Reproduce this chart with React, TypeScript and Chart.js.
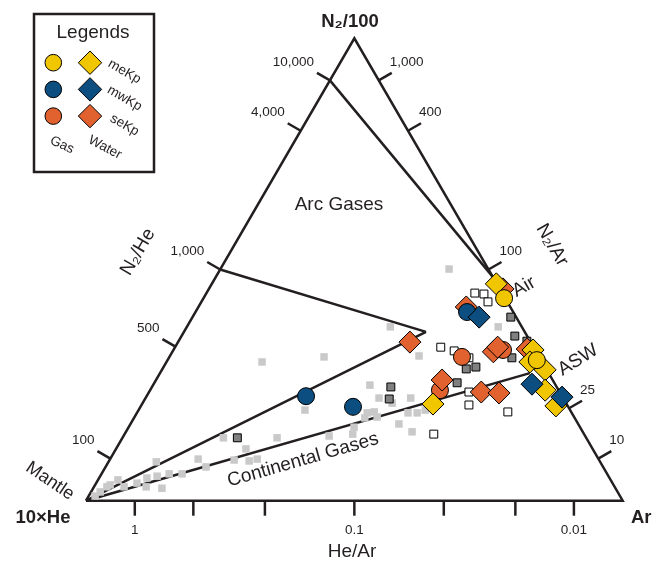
import React, { useEffect, useRef } from "react";
import { Chart, registerables } from "chart.js";

Chart.register(...registerables);

// Ternary composition per point: [N2/100 share %, Ar share %]; 10×He share = 100 − both
type P = [number, number];

const triangleEdges: P[] = [[0, 0], [100, 0], [0, 100], [0, 0]];
const airMixLine: P[] = [[90.9, 0], [48.4, 51.6]];
const arcUpperLine: P[] = [[50, 0], [36.5, 45.1]];
const arcLowerLine: P[] = [[0, 0], [36.5, 45.1]];
const continentalLine: P[] = [[0, 0], [27.6, 68.9]];

const literatureLight: P[] = [
  [1.0, 1.2], [1.9, 1.7], [3.0, 2.4], [3.4, 2.8], [4.5, 3.7], [3.0, 5.6], [3.8, 7.6],
  [3.0, 9.7], [4.9, 8.9], [8.4, 8.9], [5.3, 10.6], [2.7, 12.8], [5.8, 12.6], [5.8, 15.0],
  [9.0, 16.4], [7.3, 18.7], [13.6, 18.8], [8.8, 23.2], [11.2, 24.2], [8.6, 26.1], [9.0, 27.4],
  [30.0, 17.8], [13.6, 28.8], [19.6, 31.0], [31.1, 28.8], [14.0, 38.3], [14.4, 42.5],
  [15.9, 42.0], [17.9, 43.0], [19.0, 42.9], [25.0, 40.4], [19.2, 44.1], [18.1, 45.2],
  [22.2, 43.5], [37.6, 37.9], [21.1, 46.5], [16.6, 50.0], [19.0, 50.5], [22.2, 49.4],
  [14.9, 53.3], [19.0, 52.2], [31.3, 46.4], [19.6, 53.4], [50.1, 42.6], [37.6, 58.0],
];
const literatureDark: P[] = [
  [13.6, 21.4], [22.0, 45.5], [24.6, 44.5], [25.5, 56.4], [28.5, 56.6], [28.9, 58.2],
  [39.7, 59.3], [35.6, 62.1], [34.5, 64.9], [30.9, 63.9],
];
const literatureOpen: P[] = [
  [44.9, 50.0], [44.7, 51.8], [43.0, 53.4], [33.2, 49.5], [32.4, 52.4], [30.9, 55.9],
  [23.5, 59.6], [20.7, 61.0], [19.2, 69.0], [14.4, 57.6],
];

const meKpGas: P[] = [[43.8, 56.0], [30.4, 68.8]];
const meKpWater: P[] = [[46.9, 53.0], [32.6, 67.0], [30.0, 67.7], [28.3, 71.4], [23.9, 73.6], [20.5, 77.3], [20.9, 54.2]];
const mwKpGas: P[] = [[22.6, 29.7], [20.3, 39.6], [40.8, 50.6]];
const mwKpWater: P[] = [[39.7, 53.4], [25.2, 70.5], [22.4, 77.5]];
const seKpGas: P[] = [[31.1, 54.5], [23.9, 54.0], [32.6, 61.4]];
const seKpWater: P[] = [[34.3, 43.2], [41.9, 49.9], [26.1, 53.3], [23.5, 61.9], [23.3, 65.3], [32.2, 59.8], [33.2, 60.1], [32.8, 65.8], [45.8, 54.8]];

const n2HeTicks = [100, 500, 1000, 4000, 10000];
const n2HeLabels = ["100", "500", "1,000", "4,000", "10,000"];
const n2ArTicks = [10, 25, 100, 400, 1000];
const n2ArLabels = ["10", "25", "100", "400", "1,000"];
const heArTicks = [1, 0.4, 0.2, 0.1, 0.05, 0.025, 0.01];
const heArLabels = ["1", "", "", "0.1", "", "", "0.01"];

const legendNames = ["meKp", "mwKp", "seKp"];

const INK = "#231F20";
const YELLOW = "#F0C600";
const BLUE = "#0C4E7F";
const ORANGE = "#E1622F";
const FONT = "'Liberation Sans', Arial, Helvetica, sans-serif";

const toXY = ([n2, ar]: P) => ({ x: (ar + n2 / 2) / 100, y: n2 / 100 });

const lineDs = (data: P[]) => ({
  data: data.map(toXY),
  showLine: true,
  borderColor: INK,
  borderWidth: 2.5,
  borderJoinStyle: "miter",
  pointRadius: 0,
  fill: false,
  order: 30,
});

const markDs = (data: P[], style: string, radius: number, bg: string, border: string, bw: number, order: number) => ({
  data: data.map(toXY),
  showLine: false,
  pointStyle: style,
  pointRadius: radius,
  pointHoverRadius: radius,
  backgroundColor: bg,
  borderColor: border,
  borderWidth: bw,
  order,
});

function drawText(ctx: CanvasRenderingContext2D, s: string, x: number, y: number, size: number, opts: any = {}) {
  ctx.save();
  ctx.translate(x, y);
  if (opts.angle) ctx.rotate((opts.angle * Math.PI) / 180);
  ctx.font = `${opts.bold ? "bold " : ""}${size}px ${FONT}`;
  ctx.fillStyle = INK;
  ctx.textAlign = opts.align || "center";
  ctx.textBaseline = opts.baseline || "middle";
  ctx.fillText(s, 0, 0);
  ctx.restore();
}

const ternaryPlugin = {
  id: "ternaryDecor",
  beforeDatasetsDraw(chart: any) {
    const ctx: CanvasRenderingContext2D = chart.ctx;
    const sx = chart.scales.x, sy = chart.scales.y;
    const pt = (p: P) => {
      const v = toXY(p);
      return [sx.getPixelForValue(v.x), sy.getPixelForValue(v.y)];
    };
    const L = 15;
    const c30 = Math.cos(Math.PI / 6), s30 = 0.5;
    ctx.save();
    ctx.strokeStyle = INK;
    ctx.lineWidth = 2.5;
    ctx.lineCap = "butt";
    const tick = (p: P, nx: number, ny: number) => {
      const [x, y] = pt(p);
      ctx.beginPath();
      ctx.moveTo(x, y);
      ctx.lineTo(x + nx * L, y + ny * L);
      ctx.stroke();
      return [x + nx * L, y + ny * L];
    };
    n2HeTicks.forEach((v, i) => {
      const k = v / 1000;
      const b = (100 * k) / (1 + k);
      const [ex, ey] = tick([b, 0], -c30, -s30);
      drawText(ctx, n2HeLabels[i], ex - 3, ey - 4, 13.5, { align: "right", baseline: "bottom" });
    });
    n2ArTicks.forEach((v, i) => {
      const k = v / 100;
      const b = (100 * k) / (1 + k);
      const [ex, ey] = tick([b, 100 - b], c30, -s30);
      drawText(ctx, n2ArLabels[i], ex - 2, ey - 4, 13.5, { align: "left", baseline: "bottom" });
    });
    heArTicks.forEach((v, i) => {
      const c = 100 / (1 + 10 * v);
      const [ex, ey] = tick([0, c], 0, 1);
      if (heArLabels[i]) drawText(ctx, heArLabels[i], ex, ey + 8, 13.5, { baseline: "top" });
    });
    ctx.restore();
  },
  afterDraw(chart: any) {
    const ctx: CanvasRenderingContext2D = chart.ctx;
    // vertex and axis titles
    drawText(ctx, "N\u2082/100", 350, 22, 18.5, { bold: true });
    drawText(ctx, "10\u00d7He", 43, 518, 18.5, { bold: true });
    drawText(ctx, "Ar", 631, 518, 18.5, { bold: true, align: "left" });
    drawText(ctx, "He/Ar", 352, 552, 19);
    drawText(ctx, "N\u2082/He", 138, 252, 19, { angle: -60 });
    drawText(ctx, "N\u2082/Ar", 552, 245, 19, { angle: 60 });
    drawText(ctx, "Mantle", 50, 481, 18, { angle: 34 });
    drawText(ctx, "Arc Gases", 339, 205, 19);
    drawText(ctx, "Continental Gases", 303, 460, 19, { angle: -16 });
    drawText(ctx, "Air", 524, 287, 19, { angle: -30 });
    drawText(ctx, "ASW", 578, 360, 19, { angle: -32 });

    // legend box
    ctx.save();
    ctx.fillStyle = "#ffffff";
    ctx.fillRect(34, 14, 120, 158);
    ctx.strokeStyle = INK;
    ctx.lineWidth = 2.5;
    ctx.strokeRect(34, 14, 120, 158);
    ctx.restore();
    drawText(ctx, "Legends", 93, 33, 19);
    const cols = [YELLOW, BLUE, ORANGE];
    cols.forEach((col, i) => {
      const y = 62.7 + i * 26.7;
      ctx.save();
      ctx.fillStyle = col;
      ctx.strokeStyle = "#000";
      ctx.lineWidth = 1;
      ctx.beginPath();
      ctx.arc(53.3, y, 8.3, 0, Math.PI * 2);
      ctx.fill();
      ctx.stroke();
      ctx.beginPath();
      ctx.moveTo(90, y - 11.7);
      ctx.lineTo(101.7, y);
      ctx.lineTo(90, y + 11.7);
      ctx.lineTo(78.3, y);
      ctx.closePath();
      ctx.fill();
      ctx.stroke();
      ctx.restore();
      drawText(ctx, legendNames[i], 124.5, y + 9, 13.5, { angle: 30 });
    });
    drawText(ctx, "Gas", 62, 145, 13.5, { angle: 25 });
    drawText(ctx, "Water", 105, 147.5, 13.5, { angle: 28 });
  },
};

export default function App() {
  const ref = useRef<HTMLCanvasElement>(null);
  useEffect(() => {
    document.body.style.margin = "0";
    const canvas = ref.current!;
    const chart = new Chart(canvas, {
      type: "scatter",
      data: {
        datasets: [
          lineDs(triangleEdges),
          lineDs(airMixLine),
          lineDs(arcUpperLine),
          lineDs(arcLowerLine),
          lineDs(continentalLine),
          markDs(literatureLight, "rect", 5.3, "#C9C9C9", "#C9C9C9", 0, 25),
          markDs(literatureDark, "rect", 5.6, "#808080", "#000000", 1, 24),
          markDs(literatureOpen, "rect", 5.6, "#ffffff", "#000000", 1, 23),
          markDs(seKpGas, "circle", 8.5, ORANGE, "#000000", 1, 20),
          markDs(seKpWater, "rectRot", 11, ORANGE, "#000000", 1, 19),
          markDs(meKpWater, "rectRot", 11, YELLOW, "#000000", 1, 18),
          markDs(meKpGas, "circle", 8.5, YELLOW, "#000000", 1, 17),
          markDs(mwKpGas, "circle", 8.5, BLUE, "#000000", 1, 16),
          markDs(mwKpWater, "rectRot", 11, BLUE, "#000000", 1, 15),
        ] as any,
      },
      options: {
        animation: false,
        responsive: false,
        devicePixelRatio: 1,
        events: [],
        layout: { padding: 0, autoPadding: false },
        plugins: { legend: { display: false }, tooltip: { enabled: false } },
        scales: {
          x: { type: "linear", display: false, min: -0.16024, max: 1.05646 },
          y: { type: "linear", display: false, min: -0.13473, max: 1.08283 },
        },
      },
      plugins: [ternaryPlugin as any],
    });
    return () => chart.destroy();
  }, []);
  return (
    <div style={{ width: 653, height: 563, background: "#fff" }}>
      <canvas ref={ref} width={653} height={563} style={{ display: "block" }} />
    </div>
  );
}
